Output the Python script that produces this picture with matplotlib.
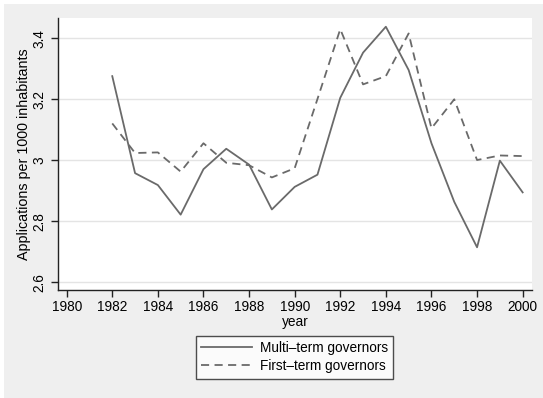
import matplotlib
matplotlib.use("Agg")
import matplotlib.pyplot as plt
from matplotlib.patches import Rectangle

years = list(range(1982, 2001))
multi_term = [3.276, 2.958, 2.919, 2.822, 2.971, 3.038, 2.986, 2.839, 2.913, 2.953,
              3.205, 3.353, 3.438, 3.296, 3.056, 2.864, 2.715, 2.999, 2.895]
first_term = [3.121, 3.024, 3.026, 2.963, 3.056, 2.992, 2.984, 2.944, 2.974, 3.201,
              3.430, 3.249, 3.276, 3.416, 3.105, 3.200, 3.001, 3.016, 3.014]
x_ticks = list(range(1980, 2001, 2))
y_ticks = [2.6, 2.8, 3.0, 3.2, 3.4]
y_tick_labels = ["2.6", "2.8", "3", "3.2", "3.4"]

plt.rcParams["font.family"] = ["Liberation Sans", "DejaVu Sans"]

W, H = 543, 398
fig = plt.figure(figsize=(W / 100, H / 100), dpi=100)
fig.patch.set_facecolor("white")
fig.patches.append(Rectangle((4 / W, 0), 1, 1 - 4 / H, transform=fig.transFigure,
                             facecolor="#efefef", edgecolor="none", zorder=-10))

left, right, top, bottom = 58, 532, 18, 290
ax = fig.add_axes([left / W, 1 - bottom / H, (right - left) / W, (bottom - top) / H])
ax.set_facecolor("white")

line_color = "#6a6a6a"
ax.plot(years, multi_term, color=line_color, lw=1.3, label="Multi\u2013term governors")
ax.plot(years, first_term, color=line_color, lw=1.3, linestyle=(0, (4.5, 3)),
        label="First\u2013term governors")

ax.set_xlim(1979.62, 2000.41)
ax.set_ylim(2.575, 3.4666)
ax.set_xticks(x_ticks)
ax.set_yticks(y_ticks)
ax.set_yticklabels(y_tick_labels, rotation=90, va="center")
ax.grid(axis="y", color="#e4e4e4", lw=1)
ax.set_axisbelow(True)

for s in ["top", "right"]:
    ax.spines[s].set_visible(False)
for s in ["left", "bottom"]:
    ax.spines[s].set_color("#222222")
    ax.spines[s].set_linewidth(1)
ax.tick_params(axis="both", length=5, width=1, color="#222222", labelsize=9.8,
               labelcolor="black", pad=2)
ax.tick_params(axis="y", pad=3.5)

ax.set_xlabel("year", fontsize=9.8, labelpad=1)
ax.set_ylabel("Applications per 1000 inhabitants", fontsize=10.3, labelpad=1)

leg = fig.legend(loc="center", bbox_to_anchor=(294.7 / W, 1 - 357.2 / H),
                 fontsize=9.8, frameon=True, fancybox=False, handlelength=3.7,
                 handletextpad=0.6, borderpad=0.4, labelspacing=0.3)
leg.get_frame().set_edgecolor("#222222")
leg.get_frame().set_linewidth(1)
leg.get_frame().set_facecolor("white")

fig.savefig("out.png", dpi=100)
